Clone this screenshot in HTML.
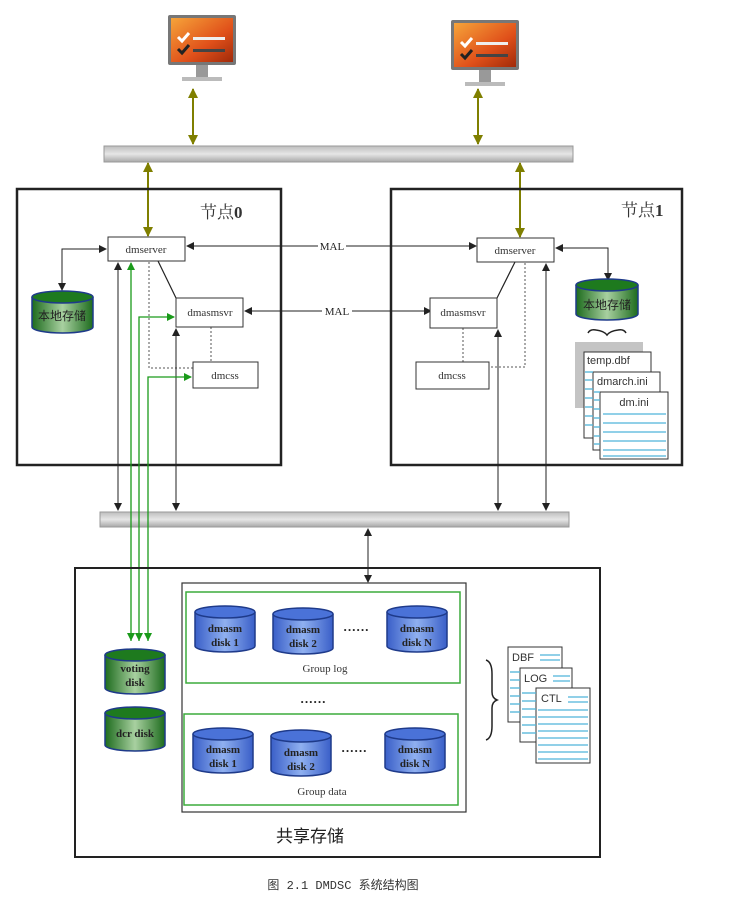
<!DOCTYPE html>
<html><head><meta charset="utf-8"><style>
html,body{margin:0;padding:0;background:#fff;}
svg{display:block;}
</style></head><body>
<svg width="733" height="902" viewBox="0 0 733 902" xmlns="http://www.w3.org/2000/svg" font-family="Liberation Serif, Noto Serif CJK SC, serif">
<defs>
<linearGradient id="bar" x1="0" y1="0" x2="0" y2="1"><stop offset="0" stop-color="#bdbdbd"/><stop offset="0.5" stop-color="#e6e6e6"/><stop offset="1" stop-color="#a8a8a8"/></linearGradient>
<linearGradient id="gcyl" x1="0" y1="0" x2="1" y2="0"><stop offset="0" stop-color="#1d6b1d"/><stop offset="0.5" stop-color="#a8d0a0"/><stop offset="1" stop-color="#1d6b1d"/></linearGradient>
<linearGradient id="bcyl" x1="0" y1="0" x2="1" y2="0"><stop offset="0" stop-color="#3a5fc8"/><stop offset="0.5" stop-color="#8fb0f0"/><stop offset="1" stop-color="#3a5fc8"/></linearGradient>
<linearGradient id="scr" x1="0" y1="0" x2="1" y2="1"><stop offset="0" stop-color="#f6a43a"/><stop offset="0.6" stop-color="#e0501a"/><stop offset="1" stop-color="#a02a0a"/></linearGradient>
<marker id="ab" markerWidth="8" markerHeight="8" refX="7" refY="4" orient="auto" markerUnits="userSpaceOnUse"><path d="M0,0 L8,4 L0,8z" fill="#222"/></marker>
<marker id="abs" markerWidth="8" markerHeight="8" refX="1" refY="4" orient="auto" markerUnits="userSpaceOnUse"><path d="M8,0 L0,4 L8,8z" fill="#222"/></marker>
<marker id="ag" markerWidth="8" markerHeight="8" refX="7" refY="4" orient="auto" markerUnits="userSpaceOnUse"><path d="M0,0 L8,4 L0,8z" fill="#1a9a1a"/></marker>
<marker id="ao" markerWidth="10" markerHeight="10" refX="9" refY="5" orient="auto" markerUnits="userSpaceOnUse"><path d="M0,0 L10,5 L0,10z" fill="#7f7f00"/></marker>
<marker id="aos" markerWidth="10" markerHeight="10" refX="1" refY="5" orient="auto" markerUnits="userSpaceOnUse"><path d="M10,0 L0,5 L10,10z" fill="#7f7f00"/></marker>
</defs>

<g transform="translate(168,15)">
<rect x="0" y="0" width="68" height="50" fill="#777" rx="2"/><rect x="3" y="3" width="62" height="44" fill="url(#scr)"/>
<path d="M10,22 l4,4 l7,-8" stroke="#fff" stroke-width="3" fill="none"/><path d="M10,34 l4,4 l7,-8" stroke="#222" stroke-width="3" fill="none"/>
<rect x="25" y="22" width="32" height="3" fill="#eee"/><rect x="25" y="34" width="32" height="3" fill="#444"/>
<rect x="28" y="50" width="12" height="12" fill="#999"/><rect x="14" y="62" width="40" height="4" fill="#bbb"/>
</g>
<g transform="translate(451,20)">
<rect x="0" y="0" width="68" height="50" fill="#777" rx="2"/><rect x="3" y="3" width="62" height="44" fill="url(#scr)"/>
<path d="M10,22 l4,4 l7,-8" stroke="#fff" stroke-width="3" fill="none"/><path d="M10,34 l4,4 l7,-8" stroke="#222" stroke-width="3" fill="none"/>
<rect x="25" y="22" width="32" height="3" fill="#eee"/><rect x="25" y="34" width="32" height="3" fill="#444"/>
<rect x="28" y="50" width="12" height="12" fill="#999"/><rect x="14" y="62" width="40" height="4" fill="#bbb"/>
</g>
<line x1="193" y1="89" x2="193" y2="144" stroke="#7f7f00" stroke-width="2" marker-start="url(#aos)" marker-end="url(#ao)"/>
<line x1="478" y1="89" x2="478" y2="144" stroke="#7f7f00" stroke-width="2" marker-start="url(#aos)" marker-end="url(#ao)"/>

<rect x="104" y="146" width="469" height="16" fill="url(#bar)" stroke="#999"/>
<line x1="148" y1="163" x2="148" y2="236" stroke="#7f7f00" stroke-width="2" marker-start="url(#aos)" marker-end="url(#ao)"/>
<line x1="520" y1="163" x2="520" y2="237" stroke="#7f7f00" stroke-width="2" marker-start="url(#aos)" marker-end="url(#ao)"/>

<rect x="17" y="189" width="264" height="276" fill="none" stroke="#222" stroke-width="2.5"/>
<rect x="391" y="189" width="291" height="276" fill="none" stroke="#222" stroke-width="2.5"/>
<text x="200" y="218" font-size="17" fill="#333">节点<tspan font-weight="bold">0</tspan></text>
<text x="621" y="216" font-size="17" fill="#333">节点<tspan font-weight="bold">1</tspan></text>

<line x1="318" y1="246" x2="187" y2="246" stroke="#222" marker-end="url(#ab)"/>
<line x1="346" y1="246" x2="476" y2="246" stroke="#222" marker-end="url(#ab)"/>
<text x="332" y="250" font-size="11" text-anchor="middle" fill="#222">MAL</text>
<line x1="322" y1="311" x2="245" y2="311" stroke="#222" marker-end="url(#ab)"/>
<line x1="352" y1="311" x2="431" y2="311" stroke="#222" marker-end="url(#ab)"/>
<text x="337" y="315" font-size="11" text-anchor="middle" fill="#222">MAL</text>

<line x1="158" y1="261" x2="176" y2="298" stroke="#222" stroke-width="1.2"/>
<path d="M149,262 V368 H193" stroke="#555" stroke-dasharray="2,2" fill="none"/>
<line x1="211" y1="327" x2="211" y2="362" stroke="#555" stroke-dasharray="2,2"/>
<path d="M62,290 V249 H106" stroke="#222" fill="none" marker-end="url(#ab)" marker-start="url(#abs)"/>
<rect x="108" y="237" width="77" height="24" fill="#fff" stroke="#333"/>
<text x="146" y="253" font-size="11" text-anchor="middle" fill="#333">dmserver</text>
<rect x="176" y="298" width="67" height="29" fill="#fff" stroke="#333"/>
<text x="210" y="316" font-size="11" text-anchor="middle" fill="#333">dmasmsvr</text>
<rect x="193" y="362" width="65" height="26" fill="#fff" stroke="#333"/>
<text x="225" y="379" font-size="11" text-anchor="middle" fill="#333">dmcss</text>
<g><path d="M32,297 V327 A30.5,6 0 0 0 93,327 V297" fill="url(#gcyl)" stroke="#1e3a8a" stroke-width="1.5"/><ellipse cx="62.5" cy="297" rx="30.5" ry="6" fill="#1e7a1e" stroke="#1e3a8a" stroke-width="1.5"/>
<text x="62" y="320" font-size="12" text-anchor="middle" fill="#222" style="font-family:'Liberation Sans','Noto Sans CJK SC',sans-serif">本地存储</text></g>

<line x1="515" y1="262" x2="497" y2="298" stroke="#222" stroke-width="1.2"/>
<path d="M525,263 V367 H489" stroke="#555" stroke-dasharray="2,2" fill="none"/>
<line x1="463" y1="328" x2="463" y2="362" stroke="#555" stroke-dasharray="2,2"/>
<path d="M556,248 H608 V280" stroke="#222" fill="none" marker-start="url(#abs)" marker-end="url(#ab)"/>
<rect x="477" y="238" width="77" height="24" fill="#fff" stroke="#333"/>
<text x="515" y="254" font-size="11" text-anchor="middle" fill="#333">dmserver</text>
<rect x="430" y="298" width="67" height="30" fill="#fff" stroke="#333"/>
<text x="463" y="316" font-size="11" text-anchor="middle" fill="#333">dmasmsvr</text>
<rect x="416" y="362" width="73" height="27" fill="#fff" stroke="#333"/>
<text x="452" y="379" font-size="11" text-anchor="middle" fill="#333">dmcss</text>
<g><path d="M576,285 V314 A31,6 0 0 0 638,314 V285" fill="url(#gcyl)" stroke="#1e3a8a" stroke-width="1.5"/><ellipse cx="607" cy="285" rx="31" ry="6" fill="#1e7a1e" stroke="#1e3a8a" stroke-width="1.5"/>
<text x="607" y="309" font-size="12" text-anchor="middle" fill="#222" style="font-family:'Liberation Sans','Noto Sans CJK SC',sans-serif">本地存储</text></g>
<path d="M588,333 q2,-4 8,-3 q8,1 11,5 q3,-4 11,-5 q6,-1 8,3" stroke="#222" stroke-width="1.5" fill="none"/>
<rect x="575" y="342" width="68" height="66" fill="#c4c4c4"/>
<g style="font-family:'Liberation Sans',sans-serif" font-size="11" fill="#333">
<rect x="584" y="352" width="67" height="86" fill="#fff" stroke="#333"/>
<text x="587" y="364">temp.dbf</text>
<rect x="593" y="372" width="67" height="78" fill="#fff" stroke="#333"/>
<text x="597" y="385">dmarch.ini</text>
<rect x="600" y="392" width="68" height="67" fill="#fff" stroke="#333"/>
<text x="634" y="406" text-anchor="middle">dm.ini</text>
</g>
<g stroke="#4fb3d9" stroke-width="1.3">
<line x1="585" y1="372" x2="593" y2="372"/><line x1="585" y1="380" x2="593" y2="380"/><line x1="585" y1="389" x2="593" y2="389"/><line x1="585" y1="398" x2="593" y2="398"/><line x1="585" y1="407" x2="593" y2="407"/><line x1="585" y1="416" x2="593" y2="416"/><line x1="585" y1="425" x2="593" y2="425"/>
<line x1="594" y1="392" x2="600" y2="392"/><line x1="594" y1="400" x2="600" y2="400"/><line x1="594" y1="409" x2="600" y2="409"/><line x1="594" y1="418" x2="600" y2="418"/><line x1="594" y1="427" x2="600" y2="427"/><line x1="594" y1="436" x2="600" y2="436"/><line x1="594" y1="444" x2="600" y2="444"/>
<line x1="603" y1="414" x2="666" y2="414"/><line x1="603" y1="423" x2="666" y2="423"/><line x1="603" y1="432" x2="666" y2="432"/><line x1="603" y1="441" x2="666" y2="441"/><line x1="603" y1="450" x2="666" y2="450"/><line x1="603" y1="456" x2="666" y2="456"/>
</g>

<rect x="100" y="512" width="469" height="15" fill="url(#bar)" stroke="#999"/>
<line x1="118" y1="510" x2="118" y2="263" stroke="#222" marker-start="url(#abs)" marker-end="url(#ab)"/>
<line x1="176" y1="510" x2="176" y2="329" stroke="#222" marker-start="url(#abs)" marker-end="url(#ab)"/>
<line x1="498" y1="510" x2="498" y2="330" stroke="#222" marker-start="url(#abs)" marker-end="url(#ab)"/>
<line x1="546" y1="510" x2="546" y2="264" stroke="#222" marker-start="url(#abs)" marker-end="url(#ab)"/>
<line x1="368" y1="529" x2="368" y2="582" stroke="#222" marker-start="url(#abs)" marker-end="url(#ab)"/>

<line x1="131" y1="641" x2="131" y2="263" stroke="#1a9a1a" stroke-width="1.3" marker-end="url(#ag)"/>
<path d="M139,641 V317 H174" stroke="#1a9a1a" stroke-width="1.3" fill="none" marker-end="url(#ag)"/>
<path d="M148,641 V377 H191" stroke="#1a9a1a" stroke-width="1.3" fill="none" marker-end="url(#ag)"/>
<path d="M131,641 l-4,-8 h8z M139,641 l-4,-8 h8z M148,641 l-4,-8 h8z" fill="#1a9a1a"/>

<rect x="75" y="568" width="525" height="289" fill="none" stroke="#222" stroke-width="2"/>
<rect x="182" y="583" width="284" height="229" fill="#fff" stroke="#333" stroke-width="1.2"/>
<rect x="186" y="592" width="274" height="91" fill="none" stroke="#3cab3c" stroke-width="1.5"/>
<rect x="184" y="714" width="274" height="91" fill="none" stroke="#3cab3c" stroke-width="1.5"/>
<g font-size="11" font-weight="bold" fill="#222" text-anchor="middle">
<path d="M195,612 V646 A30,6 0 0 0 255,646 V612" fill="url(#bcyl)" stroke="#1e3a8a" stroke-width="1.5"/><ellipse cx="225" cy="612" rx="30" ry="6" fill="#4a72d8" stroke="#1e3a8a" stroke-width="1.5"/><text x="225" y="632">dmasm</text><text x="225" y="646">disk 1</text>
<path d="M273,614 V648 A30,6 0 0 0 333,648 V614" fill="url(#bcyl)" stroke="#1e3a8a" stroke-width="1.5"/><ellipse cx="303" cy="614" rx="30" ry="6" fill="#4a72d8" stroke="#1e3a8a" stroke-width="1.5"/><text x="303" y="633">dmasm</text><text x="303" y="647">disk 2</text>
<path d="M387,612 V646 A30,6 0 0 0 447,646 V612" fill="url(#bcyl)" stroke="#1e3a8a" stroke-width="1.5"/><ellipse cx="417" cy="612" rx="30" ry="6" fill="#4a72d8" stroke="#1e3a8a" stroke-width="1.5"/><text x="417" y="632">dmasm</text><text x="417" y="646">disk N</text>
<path d="M193,734 V767 A30,6 0 0 0 253,767 V734" fill="url(#bcyl)" stroke="#1e3a8a" stroke-width="1.5"/><ellipse cx="223" cy="734" rx="30" ry="6" fill="#4a72d8" stroke="#1e3a8a" stroke-width="1.5"/><text x="223" y="753">dmasm</text><text x="223" y="767">disk 1</text>
<path d="M271,736 V770 A30,6 0 0 0 331,770 V736" fill="url(#bcyl)" stroke="#1e3a8a" stroke-width="1.5"/><ellipse cx="301" cy="736" rx="30" ry="6" fill="#4a72d8" stroke="#1e3a8a" stroke-width="1.5"/><text x="301" y="756">dmasm</text><text x="301" y="770">disk 2</text>
<path d="M385,734 V767 A30,6 0 0 0 445,767 V734" fill="url(#bcyl)" stroke="#1e3a8a" stroke-width="1.5"/><ellipse cx="415" cy="734" rx="30" ry="6" fill="#4a72d8" stroke="#1e3a8a" stroke-width="1.5"/><text x="415" y="753">dmasm</text><text x="415" y="767">disk N</text>
<path d="M105,655 V688 A30,6 0 0 0 165,688 V655" fill="url(#gcyl)" stroke="#1e3a8a" stroke-width="1.5"/><ellipse cx="135" cy="655" rx="30" ry="6" fill="#1e7a1e" stroke="#1e3a8a" stroke-width="1.5"/><text x="135" y="672">voting</text><text x="135" y="686">disk</text>
<path d="M105,713 V745 A30,6 0 0 0 165,745 V713" fill="url(#gcyl)" stroke="#1e3a8a" stroke-width="1.5"/><ellipse cx="135" cy="713" rx="30" ry="6" fill="#1e7a1e" stroke="#1e3a8a" stroke-width="1.5"/><text x="135" y="737">dcr disk</text>
</g>
<g font-size="13" font-weight="bold" fill="#222" text-anchor="middle">
<text x="356" y="634">······</text><text x="313" y="706">······</text><text x="354" y="755">······</text>
</g>
<text x="325" y="672" font-size="11" text-anchor="middle" fill="#333">Group log</text>
<text x="322" y="795" font-size="11" text-anchor="middle" fill="#333">Group data</text>
<path d="M486,660 q6,2 6,14 v18 q0,6 5,8 q-5,2 -5,8 v18 q0,12 -6,14" stroke="#222" stroke-width="1.5" fill="none"/>
<g style="font-family:'Liberation Sans',sans-serif" font-size="11" fill="#333">
<rect x="508" y="647" width="54" height="75" fill="#fff" stroke="#333"/><text x="512" y="661">DBF</text>
<rect x="520" y="668" width="52" height="74" fill="#fff" stroke="#333"/><text x="524" y="682">LOG</text>
<rect x="536" y="688" width="54" height="75" fill="#fff" stroke="#333"/><text x="541" y="702">CTL</text>
</g>
<g stroke="#4fb3d9" stroke-width="1.3">
<line x1="540" y1="655" x2="560" y2="655"/><line x1="540" y1="660" x2="560" y2="660"/>
<line x1="510" y1="672" x2="520" y2="672"/><line x1="510" y1="680" x2="520" y2="680"/><line x1="510" y1="688" x2="520" y2="688"/><line x1="510" y1="696" x2="520" y2="696"/><line x1="510" y1="704" x2="520" y2="704"/><line x1="510" y1="712" x2="520" y2="712"/>
<line x1="553" y1="676" x2="570" y2="676"/><line x1="553" y1="681" x2="570" y2="681"/>
<line x1="522" y1="693" x2="536" y2="693"/><line x1="522" y1="701" x2="536" y2="701"/><line x1="522" y1="709" x2="536" y2="709"/><line x1="522" y1="717" x2="536" y2="717"/><line x1="522" y1="725" x2="536" y2="725"/><line x1="522" y1="733" x2="536" y2="733"/>
<line x1="568" y1="697" x2="588" y2="697"/><line x1="568" y1="702" x2="588" y2="702"/>
<line x1="538" y1="710" x2="588" y2="710"/><line x1="538" y1="717" x2="588" y2="717"/><line x1="538" y1="724" x2="588" y2="724"/><line x1="538" y1="731" x2="588" y2="731"/><line x1="538" y1="738" x2="588" y2="738"/><line x1="538" y1="745" x2="588" y2="745"/><line x1="538" y1="752" x2="588" y2="752"/><line x1="538" y1="759" x2="588" y2="759"/>
</g>
<text x="310" y="842" font-size="17" text-anchor="middle" fill="#222" style="font-family:'Liberation Sans','Noto Sans CJK SC',sans-serif">共享存储</text>
<text x="343" y="889" font-size="12" text-anchor="middle" fill="#333" style="font-family:'Liberation Mono','Noto Sans CJK SC',monospace">图 2.1 DMDSC 系统结构图</text>
</svg>
</body></html>
